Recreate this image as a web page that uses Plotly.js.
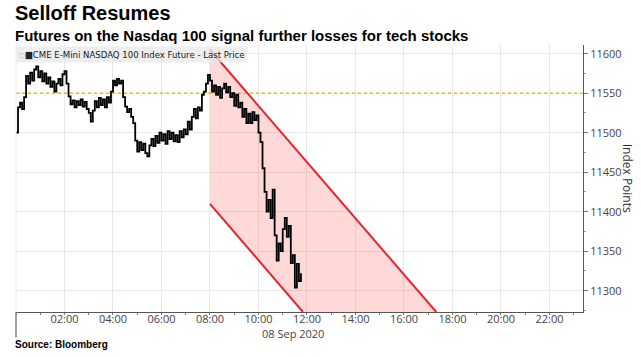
<!DOCTYPE html>
<html>
<head>
<meta charset="utf-8">
<script src="https://cdn.plot.ly/plotly-3.0.1.min.js"></script>
<style>
html,body{margin:0;padding:0;background:#fff;}
#chart{width:641px;height:357px;}
</style>
</head>
<body>
<div id="chart"></div>
<script>
// 5-minute samples starting 2020-09-08 00:00
const seriesName = "CME E-Mini NASDAQ 100 Index Future - Last Price";
const dayDate = "2020-09-08";
const sampleStepMinutes = 5;
const priceValues = [
  11500,11532,11538,11530,11545,11572,11562,11576,11566,11580,11584,11570,
  11578,11565,11575,11562,11570,11558,11565,11552,11562,11568,11560,11574,
  11578,11562,11546,11536,11541,11532,11540,11535,11542,11533,11539,11530,
  11525,11514,11528,11540,11532,11544,11535,11542,11532,11545,11538,11552,
  11566,11560,11568,11562,11566,11545,11533,11526,11530,11520,11512,11490,
  11476,11488,11478,11486,11474,11470,11484,11492,11483,11496,11487,11500,
  11490,11498,11486,11502,11492,11500,11489,11497,11488,11502,11494,11504,
  11498,11514,11504,11520,11530,11518,11532,11528,11548,11552,11562,11573,
  11566,11552,11560,11548,11558,11544,11556,11562,11551,11558,11545,11550,
  11534,11548,11532,11538,11520,11530,11512,11524,11512,11526,11516,11522,
  11500,11488,11455,11425,11400,11415,11392,11428,11370,11338,11360,11350,
  11378,11392,11368,11382,11335,11345,11304,11334,11312,11322
];
const referenceLevel = 11550;
const channelUpperX = ["2020-09-08 08:00", "2020-09-08 17:20"];
const channelUpperY = [11605, 11273];
const channelLowerX = ["2020-09-08 08:00", "2020-09-08 11:50"];
const channelLowerY = [11410, 11273];
const yTickVals = [11300, 11350, 11400, 11450, 11500, 11550, 11600];
const xTickLabels = ["02:00","04:00","06:00","08:00","10:00","12:00","14:00","16:00","18:00","20:00","22:00"];
const dateLabel = "08 Sep 2020";

function pad(n){return (n<10?"0":"")+n;}
const times = priceValues.map((v,i)=>{
  const m = i*sampleStepMinutes;
  return dayDate+" "+pad(Math.floor(m/60))+":"+pad(m%60);
});
const xTickVals = xTickLabels.map(s => dayDate+" "+s);

const channelX = [channelUpperX[0], channelUpperX[1], channelLowerX[1], channelLowerX[0]];
const channelY = [channelUpperY[0], channelUpperY[1], channelLowerY[1], channelLowerY[0]];

const traces = [
  {x: channelX, y: channelY, type:"scatter", mode:"none", fill:"toself",
   fillcolor:"rgba(255,60,60,0.2)", hoverinfo:"skip", showlegend:false},
  {x: [times[0], dayDate+" 23:59"], y:[referenceLevel, referenceLevel], type:"scatter", mode:"lines",
   line:{color:"#d9b400", width:1.2, dash:"dot"}, hoverinfo:"skip", showlegend:false},
  {x: times, y: priceValues, type:"scatter", mode:"lines", name: seriesName,
   line:{color:"#000", width:1.8, shape:"hv"}, showlegend:false},
  {x: channelUpperX, y: channelUpperY, type:"scatter", mode:"lines",
   line:{color:"#e3262b", width:2}, hoverinfo:"skip", showlegend:false},
  {x: channelLowerX, y: channelLowerY, type:"scatter", mode:"lines",
   line:{color:"#e3262b", width:2}, hoverinfo:"skip", showlegend:false}
];

const tickFont = {family:"Open Sans, Noto Sans, sans-serif", size:11, color:"#444"};

const layout = {
  width:641, height:357,
  margin:{l:16, r:58, t:45, b:45, pad:0},
  paper_bgcolor:"#fff", plot_bgcolor:"#fff",
  showlegend:false,
  xaxis:{
    type:"date",
    range:[dayDate+" 00:00", dayDate+" 23:23"],
    tickvals: xTickVals, ticktext: xTickLabels,
    showgrid:true, gridcolor:"#e8e8e8", gridwidth:1,
    showline:true, linecolor:"#555", linewidth:1,
    ticks:"outside", ticklen:2, tickcolor:"#777",
    ticklabelstandoff:-5,
    minor:{dtick:3600000, tick0:dayDate+" 00:00", ticks:"outside", ticklen:2, tickcolor:"#777", showgrid:false},
    tickfont: tickFont, zeroline:false, fixedrange:true
  },
  yaxis:{
    side:"right",
    range:[11273, 11611],
    tickvals: yTickVals, tickformat:"d",
    showgrid:true, gridcolor:"#e8e8e8", gridwidth:1,
    showline:true, linecolor:"#555", linewidth:1,
    ticks:"outside", ticklen:4, tickcolor:"#777",
    minor:{dtick:25, tick0:11275, ticks:"outside", ticklen:2, tickcolor:"#999", showgrid:false},
    tickfont: tickFont, zeroline:false, fixedrange:true
  },
  shapes:[
    {type:"line", xref:"paper", yref:"paper", x0:0, x1:0, y0:1, y1:-0.095,
     line:{color:"#e8e8e8", width:1}},
    {type:"line", xref:"paper", yref:"paper", x0:0, x1:0, y0:0, y1:-0.095,
     line:{color:"#555", width:1}}
  ],
  annotations:[
    {xref:"paper", yref:"paper", x:-0.005, y:1.168, xanchor:"left", yanchor:"top",
     text:"<b>Selloff Resumes</b>", showarrow:false,
     font:{family:"Liberation Sans, Arial, sans-serif", size:20, color:"#000"}},
    {xref:"paper", yref:"paper", x:-0.005, y:1.075, xanchor:"left", yanchor:"top",
     text:"<b>Futures on the Nasdaq 100 signal further losses for tech stocks</b>", showarrow:false,
     font:{family:"Liberation Sans, Arial, sans-serif", size:15, color:"#000"}},
    {xref:"paper", yref:"paper", x:0, y:0.995, xanchor:"left", yanchor:"top",
     text:"<span style='color:#bbb'>▫</span>■" + seriesName, showarrow:false,
     bgcolor:"rgba(232,232,232,0.75)", borderpad:2,
     font:{family:"Liberation Sans Narrow, DejaVu Sans Condensed, sans-serif", size:9.5, color:"#222"}},
    {xref:"x", yref:"paper", x:dayDate+" 11:25", y:-0.045, xanchor:"center", yanchor:"top",
     text:dateLabel, showarrow:false, font: tickFont},
    {xref:"paper", yref:"paper", x:1.079, y:0.5, xanchor:"center", yanchor:"middle",
     text:"Index Points", textangle:90, showarrow:false,
     font:{family:"Open Sans, Noto Sans, sans-serif", size:12, color:"#333"}},
    {xref:"paper", yref:"paper", x:-0.005, y:-0.095, xanchor:"left", yanchor:"top",
     text:"<b>Source: Bloomberg</b>", showarrow:false,
     font:{family:"Liberation Sans, Arial, sans-serif", size:10, color:"#000"}}
  ]
};

Plotly.newPlot("chart", traces, layout, {staticPlot:true, displayModeBar:false});
</script>
</body>
</html>
